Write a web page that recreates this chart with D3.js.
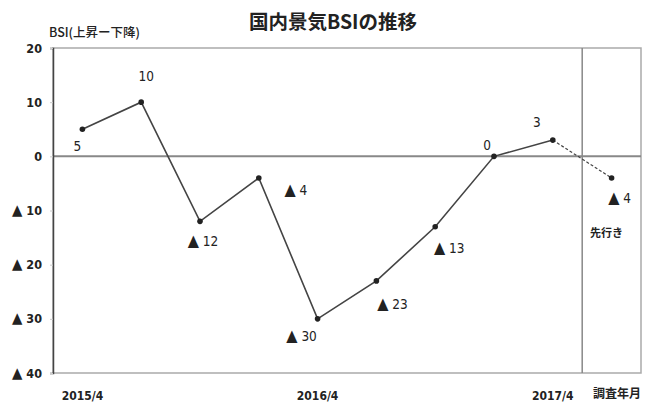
<!DOCTYPE html>
<html><head><meta charset="utf-8">
<script src="https://cdn.jsdelivr.net/npm/d3@7"></script>
<style>body{margin:0;background:#fff}svg{display:block}</style>
</head><body><svg id="c" width="649" height="405"></svg>
<script>
const categories = ["2015/4","2015/7","2015/10","2016/1","2016/4","2016/7","2016/10","2017/1","2017/4","先行き"];
const values = [5, 10, -12, -4, -30, -23, -13, 0, 3, -4];
const yTicks = [20, 10, 0, -10, -20, -30, -40];
const xTickLabels = ["2015/4", "2016/4", "2017/4"];
const title = "国内景気BSIの推移";
const yTitle = "BSI(上昇ー下降)";
const xTitle = "調査年月";
const forecastLabel = "先行き";

// label placement (offsets from point, px)
const labelOffsets = [[-5,22],[5,-21],[3,25],[37,17],[-16,22],[16,28],[14,26],[-7,-6],[-16,-13],[8,25]];

const fmt = v => v < 0 ? "▲ " + Math.abs(v) : String(v);
function setLabel(sel) {
  sel.each(function(v) {
    const t = d3.select(this); t.text(null);
    if (v < 0) {
      t.append("tspan").attr("font-size", "1.2em").text("▲");
      t.append("tspan").text(" " + Math.abs(v));
    } else t.text(String(v));
  });
}
const svg = d3.select("#c");
const L = 53, R = 641, T = 48, B = 373;
const x = d3.scaleBand().domain(categories).range([L, R]);
const cx = d => x(d) + x.bandwidth() / 2;
const y = d3.scaleLinear().domain([-40, 20]).range([B, T]);
const font = "'DejaVu Sans Condensed','Liberation Sans',sans-serif";

svg.append("text").attr("x", 333).attr("y", 29).attr("text-anchor", "middle")
  .attr("font-family", "'Noto Sans CJK JP',sans-serif").attr("font-weight", "bold")
  .attr("font-size", 19.5).attr("fill", "#222").text(title);
svg.append("text").attr("x", 49).attr("y", 37)
  .attr("font-family", "'Noto Sans CJK JP',sans-serif").attr("font-size", 12.5)
  .attr("font-weight", "500").attr("fill", "#222").text(yTitle);

// frame
svg.append("rect").attr("x", L).attr("y", T).attr("width", R - L).attr("height", B - T)
  .attr("fill", "none").attr("stroke", "#aaa").attr("stroke-width", 1.5);
// separator
svg.append("line").attr("x1", x(categories[categories.length-1])).attr("x2", x(categories[categories.length-1]))
  .attr("y1", T).attr("y2", B).attr("stroke", "#888").attr("stroke-width", 1.5);
// zero line
svg.append("line").attr("x1", L).attr("x2", R).attr("y1", y(0)).attr("y2", y(0))
  .attr("stroke", "#888").attr("stroke-width", 2);

// y axis
const yAxis = d3.axisLeft(y).tickValues(yTicks).tickFormat(fmt).tickSize(3).tickPadding(8);
const ga = svg.append("g").attr("transform", `translate(${L},0)`).call(yAxis);
ga.select(".domain").attr("stroke", "#444").attr("stroke-width", 1.5);
ga.selectAll(".tick line").attr("stroke", "#ccc");
ga.selectAll(".tick text").attr("font-family", font).attr("font-size", 12.5)
  .attr("font-weight", "bold").attr("fill", "#222").call(setLabel);

// x labels
const xAxis = d3.axisBottom(x).tickValues(xTickLabels).tickSize(0).tickPadding(18);
const gx = svg.append("g").attr("transform", `translate(0,${B})`).call(xAxis);
gx.select(".domain").remove();
gx.selectAll(".tick text").attr("font-family", font).attr("font-size", 12)
  .attr("font-weight", "bold").attr("fill", "#222");
svg.append("text").attr("x", 617).attr("y", 398).attr("text-anchor", "middle")
  .attr("font-family", "'Noto Sans CJK JP',sans-serif").attr("font-weight", "bold")
  .attr("font-size", 12).attr("fill", "#222").text(xTitle);

// lines
const pts = categories.map((c, i) => [cx(c), y(values[i])]);
const line = d3.line();
svg.append("path").attr("d", line(pts.slice(0, 9))).attr("fill", "none")
  .attr("stroke", "#444").attr("stroke-width", 1.6);
svg.append("path").attr("d", line(pts.slice(8))).attr("fill", "none")
  .attr("stroke", "#444").attr("stroke-width", 1.2).attr("stroke-dasharray", "3,2");
svg.selectAll("circle.pt").data(pts).join("circle").attr("class", "pt")
  .attr("cx", d => d[0]).attr("cy", d => d[1]).attr("r", 2.8).attr("fill", "#222");

// data labels
svg.selectAll("text.lbl").data(values).join("text").attr("class", "lbl")
  .attr("x", (d, i) => pts[i][0] + labelOffsets[i][0])
  .attr("y", (d, i) => pts[i][1] + labelOffsets[i][1])
  .attr("text-anchor", "middle").attr("font-family", font).attr("font-size", 13.5)
  .attr("fill", "#222").call(setLabel);

svg.append("text").attr("x", cx(categories[9]) - 5).attr("y", 237).attr("text-anchor", "middle")
  .attr("font-family", "'Noto Sans CJK JP',sans-serif").attr("font-size", 11)
  .attr("font-weight", "bold").attr("fill", "#222").text(forecastLabel);
</script></body></html>
